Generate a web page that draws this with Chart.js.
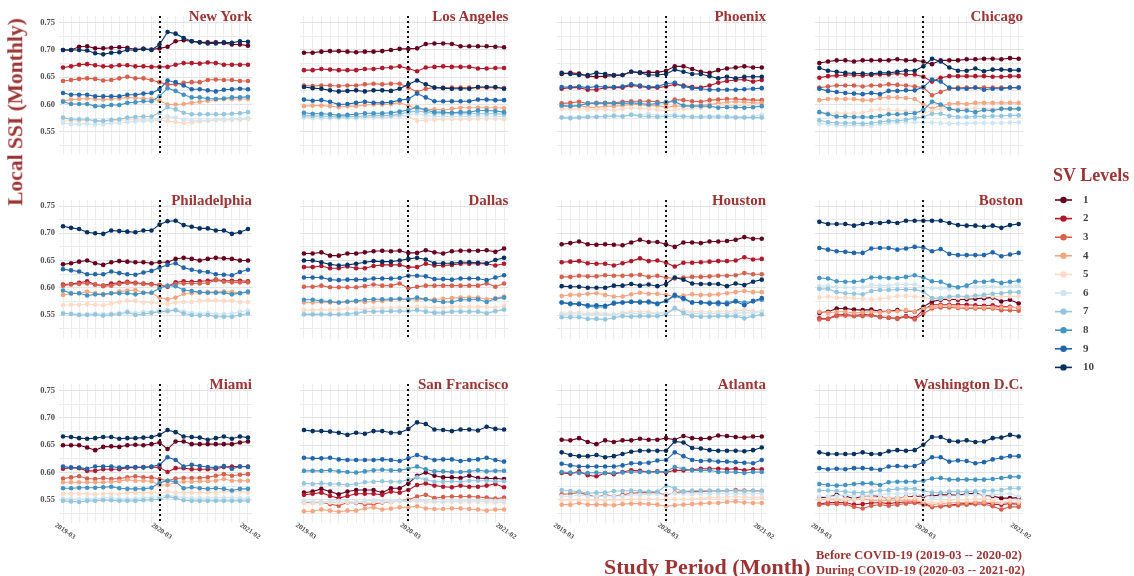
<!DOCTYPE html>
<html>
<head>
<meta charset="utf-8">
<script src="https://cdn.jsdelivr.net/npm/chart.js@4.4.1/dist/chart.umd.min.js"></script>
<style>
  html, body { margin: 0; padding: 0; }
  body { width: 1134px; height: 576px; background: #fff; position: relative; overflow: hidden;
         font-family: "Liberation Serif", "Times New Roman", serif; }
  canvas { position: absolute; }
  .txt { position: absolute; font-weight: bold; color: #9b3535; white-space: nowrap; line-height: 1; }
  .ptitle { font-size: 15px; transform: translateY(-50%); text-align: right; }
</style>
</head>
<body>
<script>
// ---- categories and tick labels ----
const months = ['2019-03','2019-04','2019-05','2019-06','2019-07','2019-08','2019-09','2019-10','2019-11','2019-12','2020-01','2020-02',
                '2020-03','2020-04','2020-05','2020-06','2020-07','2020-08','2020-09','2020-10','2020-11','2020-12','2021-01','2021-02'];
const xTickLabels = ['2019-03', '2020-03', '2021-02'];
const yTickLabels = ['0.55', '0.60', '0.65', '0.70', '0.75'];
const covidStart = '2020-03';
const levels = ['1','2','3','4','5','6','7','8','9','10'];
const cities = ['New York','Los Angeles','Phoenix','Chicago','Philadelphia','Dallas','Houston','Boston',
                'Miami','San Francisco','Atlanta','Washington D.C.'];

// ---- monthly local SSI per SV level (rows = level 1..10) ----
const newYork = [
  [0.700,0.700,0.706,0.707,0.703,0.703,0.704,0.705,0.704,0.701,0.702,0.701,0.703,0.706,0.716,0.718,0.716,0.714,0.714,0.714,0.713,0.710,0.710,0.708],
  [0.668,0.670,0.673,0.674,0.672,0.670,0.670,0.672,0.672,0.670,0.670,0.669,0.669,0.669,0.673,0.676,0.676,0.675,0.677,0.676,0.673,0.673,0.673,0.673],
  [0.643,0.645,0.647,0.648,0.647,0.644,0.645,0.648,0.651,0.648,0.648,0.645,0.641,0.637,0.637,0.640,0.641,0.641,0.645,0.646,0.645,0.645,0.643,0.643],
  [0.607,0.609,0.610,0.611,0.610,0.609,0.610,0.611,0.613,0.612,0.611,0.610,0.607,0.600,0.600,0.601,0.603,0.605,0.607,0.609,0.610,0.610,0.610,0.610],
  [0.570,0.570,0.570,0.571,0.570,0.569,0.570,0.571,0.572,0.572,0.572,0.572,0.571,0.570,0.568,0.566,0.567,0.569,0.570,0.571,0.571,0.572,0.572,0.573],
  [0.566,0.564,0.564,0.565,0.563,0.564,0.566,0.566,0.568,0.569,0.570,0.570,0.573,0.578,0.576,0.572,0.571,0.571,0.571,0.572,0.573,0.573,0.574,0.575],
  [0.576,0.573,0.573,0.573,0.570,0.570,0.572,0.573,0.576,0.577,0.578,0.578,0.585,0.595,0.591,0.585,0.582,0.582,0.582,0.582,0.582,0.583,0.584,0.586],
  [0.605,0.601,0.601,0.601,0.597,0.597,0.599,0.599,0.603,0.604,0.606,0.606,0.615,0.630,0.625,0.618,0.613,0.613,0.611,0.610,0.611,0.613,0.613,0.614],
  [0.621,0.618,0.618,0.618,0.615,0.615,0.615,0.615,0.618,0.618,0.620,0.621,0.628,0.644,0.641,0.635,0.628,0.628,0.626,0.624,0.627,0.628,0.629,0.628],
  [0.700,0.700,0.700,0.699,0.694,0.692,0.695,0.696,0.700,0.700,0.702,0.700,0.710,0.733,0.730,0.722,0.716,0.714,0.712,0.712,0.714,0.713,0.716,0.715]
];
const losAngeles = [
  [0.695,0.695,0.697,0.698,0.698,0.697,0.696,0.697,0.697,0.698,0.700,0.702,0.702,0.703,0.711,0.712,0.712,0.711,0.707,0.707,0.707,0.707,0.706,0.705],
  [0.663,0.663,0.665,0.664,0.663,0.663,0.663,0.665,0.665,0.667,0.668,0.670,0.666,0.661,0.668,0.669,0.670,0.669,0.669,0.669,0.666,0.666,0.667,0.667],
  [0.635,0.634,0.635,0.635,0.634,0.635,0.635,0.637,0.638,0.637,0.638,0.638,0.631,0.623,0.629,0.631,0.631,0.631,0.631,0.631,0.631,0.631,0.631,0.630],
  [0.597,0.598,0.598,0.597,0.595,0.597,0.597,0.599,0.600,0.600,0.601,0.603,0.598,0.592,0.591,0.591,0.590,0.592,0.594,0.594,0.594,0.594,0.594,0.593],
  [0.578,0.578,0.578,0.577,0.576,0.577,0.577,0.578,0.578,0.578,0.579,0.580,0.577,0.570,0.571,0.572,0.573,0.573,0.573,0.573,0.574,0.574,0.574,0.573],
  [0.576,0.575,0.575,0.575,0.575,0.575,0.575,0.576,0.576,0.576,0.577,0.578,0.581,0.583,0.580,0.578,0.578,0.578,0.578,0.578,0.579,0.579,0.578,0.578],
  [0.580,0.579,0.579,0.578,0.577,0.578,0.578,0.579,0.580,0.580,0.580,0.582,0.586,0.588,0.586,0.583,0.583,0.583,0.583,0.583,0.583,0.583,0.583,0.582],
  [0.585,0.583,0.583,0.582,0.580,0.581,0.582,0.584,0.584,0.584,0.585,0.587,0.590,0.595,0.590,0.586,0.586,0.585,0.586,0.586,0.589,0.589,0.588,0.586],
  [0.609,0.607,0.608,0.605,0.600,0.601,0.603,0.605,0.603,0.603,0.604,0.608,0.610,0.620,0.613,0.606,0.606,0.606,0.606,0.606,0.609,0.609,0.608,0.608],
  [0.632,0.630,0.629,0.626,0.624,0.625,0.626,0.624,0.626,0.626,0.625,0.629,0.637,0.644,0.637,0.631,0.630,0.629,0.629,0.629,0.632,0.632,0.632,0.629]
];
const phoenix = [
  [0.656,0.658,0.657,0.652,0.651,0.652,0.653,0.654,0.660,0.659,0.659,0.659,0.662,0.670,0.670,0.665,0.660,0.658,0.663,0.666,0.668,0.670,0.668,0.668],
  [0.629,0.631,0.631,0.627,0.627,0.631,0.631,0.631,0.635,0.633,0.631,0.631,0.633,0.637,0.635,0.632,0.631,0.635,0.640,0.643,0.645,0.646,0.642,0.645],
  [0.602,0.603,0.605,0.602,0.603,0.603,0.603,0.605,0.606,0.606,0.606,0.605,0.602,0.609,0.608,0.606,0.605,0.608,0.609,0.610,0.610,0.609,0.608,0.608],
  [0.597,0.597,0.598,0.595,0.594,0.597,0.597,0.598,0.600,0.600,0.598,0.598,0.595,0.597,0.597,0.598,0.599,0.600,0.602,0.604,0.605,0.604,0.603,0.603],
  [0.592,0.592,0.592,0.591,0.591,0.591,0.589,0.592,0.594,0.593,0.592,0.591,0.588,0.591,0.592,0.593,0.594,0.595,0.597,0.598,0.598,0.598,0.597,0.597],
  [0.577,0.577,0.577,0.578,0.578,0.579,0.581,0.579,0.582,0.581,0.583,0.580,0.581,0.582,0.579,0.578,0.578,0.579,0.579,0.579,0.578,0.578,0.579,0.581],
  [0.576,0.575,0.576,0.577,0.577,0.578,0.579,0.578,0.581,0.579,0.578,0.577,0.578,0.579,0.578,0.577,0.577,0.577,0.577,0.577,0.576,0.576,0.576,0.576],
  [0.598,0.597,0.598,0.602,0.602,0.602,0.602,0.602,0.603,0.602,0.600,0.602,0.605,0.605,0.598,0.597,0.597,0.597,0.594,0.595,0.595,0.594,0.595,0.597],
  [0.632,0.632,0.633,0.631,0.633,0.632,0.632,0.633,0.637,0.635,0.632,0.633,0.638,0.640,0.633,0.630,0.629,0.627,0.627,0.627,0.627,0.628,0.629,0.630],
  [0.658,0.656,0.654,0.654,0.658,0.656,0.654,0.654,0.660,0.658,0.654,0.654,0.656,0.664,0.660,0.656,0.656,0.652,0.648,0.651,0.648,0.651,0.651,0.651]
];
const chicago = [
  [0.676,0.679,0.681,0.681,0.679,0.681,0.681,0.681,0.681,0.683,0.681,0.681,0.679,0.674,0.681,0.681,0.681,0.683,0.683,0.684,0.684,0.683,0.685,0.684],
  [0.649,0.652,0.653,0.654,0.654,0.653,0.654,0.655,0.655,0.657,0.655,0.655,0.651,0.642,0.649,0.652,0.652,0.652,0.652,0.652,0.651,0.651,0.652,0.652],
  [0.631,0.633,0.635,0.635,0.635,0.633,0.635,0.635,0.637,0.636,0.635,0.633,0.631,0.617,0.623,0.629,0.631,0.631,0.631,0.631,0.631,0.631,0.631,0.631],
  [0.608,0.610,0.610,0.610,0.610,0.608,0.608,0.612,0.613,0.613,0.612,0.610,0.600,0.592,0.598,0.601,0.602,0.601,0.603,0.603,0.603,0.603,0.603,0.603],
  [0.586,0.585,0.584,0.584,0.584,0.585,0.589,0.591,0.590,0.589,0.588,0.587,0.584,0.589,0.592,0.593,0.592,0.592,0.593,0.592,0.592,0.592,0.592,0.592],
  [0.565,0.564,0.562,0.561,0.562,0.562,0.561,0.564,0.566,0.566,0.567,0.568,0.567,0.567,0.566,0.565,0.565,0.565,0.566,0.566,0.566,0.566,0.567,0.567],
  [0.571,0.568,0.566,0.566,0.566,0.565,0.566,0.568,0.570,0.570,0.572,0.575,0.577,0.583,0.583,0.579,0.577,0.577,0.578,0.578,0.579,0.579,0.580,0.580],
  [0.586,0.582,0.578,0.578,0.577,0.577,0.577,0.579,0.582,0.582,0.583,0.584,0.590,0.605,0.600,0.592,0.589,0.589,0.586,0.590,0.589,0.592,0.592,0.592],
  [0.629,0.625,0.623,0.621,0.620,0.619,0.621,0.619,0.625,0.625,0.626,0.626,0.632,0.646,0.642,0.631,0.629,0.629,0.631,0.627,0.629,0.629,0.631,0.631],
  [0.667,0.662,0.660,0.658,0.657,0.657,0.656,0.658,0.658,0.660,0.662,0.662,0.670,0.684,0.679,0.668,0.662,0.662,0.666,0.661,0.664,0.664,0.663,0.663]
];
const philadelphia = [
  [0.643,0.645,0.648,0.650,0.645,0.642,0.647,0.649,0.648,0.647,0.647,0.645,0.647,0.647,0.653,0.655,0.653,0.650,0.653,0.655,0.654,0.653,0.650,0.650],
  [0.606,0.607,0.609,0.612,0.606,0.604,0.608,0.609,0.611,0.609,0.608,0.607,0.605,0.602,0.610,0.612,0.611,0.612,0.613,0.615,0.613,0.613,0.613,0.612],
  [0.604,0.606,0.607,0.608,0.606,0.603,0.604,0.607,0.609,0.608,0.607,0.606,0.605,0.603,0.607,0.608,0.608,0.608,0.609,0.614,0.611,0.610,0.610,0.610],
  [0.587,0.589,0.590,0.593,0.590,0.587,0.590,0.593,0.595,0.596,0.591,0.591,0.582,0.579,0.582,0.589,0.590,0.591,0.592,0.592,0.593,0.592,0.591,0.591],
  [0.568,0.569,0.569,0.570,0.569,0.568,0.571,0.574,0.576,0.576,0.573,0.573,0.571,0.570,0.573,0.574,0.574,0.576,0.577,0.577,0.576,0.576,0.574,0.574],
  [0.554,0.553,0.552,0.552,0.553,0.552,0.553,0.554,0.557,0.554,0.556,0.556,0.558,0.559,0.560,0.557,0.554,0.553,0.554,0.552,0.552,0.553,0.556,0.558],
  [0.553,0.552,0.550,0.550,0.551,0.549,0.551,0.552,0.555,0.550,0.552,0.554,0.556,0.557,0.559,0.553,0.550,0.549,0.550,0.547,0.547,0.547,0.550,0.553],
  [0.595,0.590,0.590,0.586,0.588,0.588,0.590,0.590,0.590,0.588,0.591,0.591,0.599,0.604,0.603,0.596,0.594,0.592,0.591,0.591,0.591,0.588,0.590,0.593],
  [0.634,0.632,0.630,0.625,0.625,0.625,0.630,0.627,0.625,0.624,0.628,0.631,0.637,0.642,0.645,0.637,0.633,0.630,0.629,0.625,0.624,0.623,0.629,0.633],
  [0.713,0.710,0.708,0.702,0.700,0.699,0.705,0.704,0.703,0.702,0.705,0.705,0.716,0.722,0.723,0.715,0.712,0.709,0.709,0.705,0.705,0.699,0.702,0.708]
];
const dallas = [
  [0.663,0.663,0.665,0.659,0.659,0.663,0.663,0.665,0.667,0.668,0.667,0.668,0.664,0.664,0.669,0.665,0.663,0.667,0.668,0.668,0.668,0.669,0.666,0.672],
  [0.638,0.638,0.640,0.636,0.636,0.639,0.636,0.636,0.640,0.642,0.642,0.642,0.638,0.638,0.644,0.641,0.641,0.642,0.644,0.644,0.644,0.644,0.641,0.644],
  [0.602,0.602,0.604,0.601,0.601,0.601,0.601,0.603,0.606,0.604,0.604,0.608,0.599,0.602,0.604,0.604,0.604,0.604,0.604,0.604,0.604,0.608,0.602,0.608],
  [0.573,0.573,0.574,0.573,0.573,0.574,0.575,0.574,0.575,0.576,0.578,0.579,0.578,0.578,0.579,0.579,0.580,0.581,0.582,0.582,0.582,0.579,0.581,0.584],
  [0.559,0.559,0.560,0.559,0.560,0.562,0.561,0.560,0.563,0.563,0.563,0.564,0.563,0.565,0.564,0.564,0.564,0.565,0.565,0.565,0.565,0.565,0.564,0.567],
  [0.553,0.553,0.553,0.552,0.552,0.553,0.555,0.557,0.558,0.558,0.558,0.558,0.558,0.559,0.558,0.556,0.556,0.557,0.558,0.557,0.557,0.555,0.558,0.561],
  [0.551,0.551,0.551,0.551,0.551,0.552,0.553,0.556,0.556,0.556,0.557,0.557,0.557,0.559,0.556,0.554,0.554,0.556,0.556,0.556,0.556,0.553,0.557,0.560],
  [0.578,0.578,0.576,0.575,0.573,0.575,0.576,0.578,0.579,0.579,0.579,0.580,0.579,0.582,0.579,0.576,0.574,0.574,0.578,0.578,0.579,0.574,0.580,0.582],
  [0.619,0.619,0.619,0.615,0.614,0.615,0.615,0.615,0.617,0.617,0.617,0.618,0.622,0.622,0.621,0.616,0.616,0.615,0.617,0.617,0.617,0.614,0.619,0.623],
  [0.650,0.650,0.647,0.643,0.641,0.642,0.644,0.647,0.649,0.648,0.648,0.650,0.653,0.655,0.652,0.645,0.645,0.645,0.647,0.647,0.646,0.645,0.651,0.655]
];
const houston = [
  [0.680,0.682,0.685,0.680,0.679,0.680,0.679,0.678,0.683,0.688,0.684,0.684,0.680,0.675,0.683,0.683,0.682,0.685,0.685,0.686,0.688,0.693,0.690,0.690],
  [0.647,0.648,0.649,0.645,0.644,0.644,0.641,0.645,0.649,0.654,0.649,0.650,0.646,0.639,0.646,0.646,0.647,0.648,0.649,0.649,0.650,0.656,0.652,0.653],
  [0.620,0.620,0.622,0.621,0.621,0.623,0.622,0.622,0.623,0.624,0.620,0.622,0.619,0.617,0.619,0.620,0.620,0.621,0.622,0.622,0.623,0.627,0.625,0.625],
  [0.585,0.587,0.587,0.589,0.590,0.587,0.584,0.584,0.588,0.591,0.589,0.589,0.587,0.584,0.586,0.588,0.587,0.587,0.588,0.590,0.592,0.594,0.592,0.592],
  [0.553,0.554,0.554,0.553,0.554,0.553,0.551,0.554,0.556,0.556,0.556,0.553,0.556,0.562,0.559,0.556,0.556,0.556,0.556,0.556,0.558,0.559,0.557,0.557],
  [0.551,0.552,0.552,0.551,0.551,0.551,0.551,0.553,0.553,0.553,0.553,0.553,0.554,0.560,0.557,0.553,0.553,0.553,0.553,0.553,0.554,0.554,0.554,0.556],
  [0.546,0.546,0.546,0.543,0.543,0.542,0.545,0.548,0.547,0.548,0.548,0.548,0.551,0.563,0.554,0.548,0.547,0.547,0.548,0.548,0.548,0.544,0.548,0.551],
  [0.573,0.570,0.571,0.566,0.565,0.565,0.573,0.573,0.575,0.575,0.573,0.570,0.576,0.585,0.579,0.573,0.573,0.573,0.570,0.573,0.576,0.573,0.575,0.578],
  [0.573,0.571,0.570,0.568,0.568,0.567,0.571,0.573,0.574,0.573,0.575,0.571,0.576,0.587,0.581,0.573,0.573,0.571,0.573,0.570,0.575,0.568,0.576,0.581],
  [0.603,0.602,0.602,0.600,0.600,0.600,0.604,0.604,0.607,0.604,0.606,0.603,0.607,0.619,0.615,0.608,0.607,0.607,0.607,0.603,0.608,0.605,0.611,0.615]
];
const boston = [
  [0.554,0.556,0.562,0.562,0.560,0.559,0.560,0.557,0.557,0.559,0.558,0.556,0.565,0.575,0.578,0.579,0.578,0.579,0.580,0.581,0.582,0.575,0.578,0.571],
  [0.544,0.543,0.550,0.551,0.549,0.551,0.550,0.547,0.545,0.544,0.548,0.544,0.560,0.569,0.569,0.569,0.569,0.569,0.568,0.567,0.568,0.565,0.565,0.563],
  [0.542,0.543,0.548,0.549,0.548,0.548,0.549,0.546,0.545,0.543,0.547,0.542,0.553,0.562,0.564,0.564,0.563,0.562,0.562,0.562,0.562,0.559,0.559,0.558],
  [0.556,0.554,0.556,0.556,0.554,0.555,0.556,0.555,0.557,0.557,0.559,0.556,0.562,0.565,0.567,0.567,0.565,0.564,0.564,0.564,0.564,0.564,0.564,0.564],
  [0.582,0.584,0.582,0.582,0.581,0.580,0.579,0.580,0.582,0.585,0.585,0.584,0.582,0.580,0.580,0.581,0.581,0.582,0.584,0.584,0.584,0.584,0.584,0.584],
  [0.603,0.604,0.601,0.601,0.600,0.601,0.605,0.604,0.604,0.606,0.606,0.606,0.601,0.599,0.599,0.598,0.600,0.601,0.602,0.602,0.602,0.602,0.603,0.604],
  [0.598,0.598,0.592,0.590,0.589,0.588,0.594,0.596,0.596,0.597,0.597,0.597,0.593,0.581,0.581,0.584,0.585,0.584,0.586,0.587,0.589,0.590,0.592,0.592],
  [0.618,0.617,0.612,0.611,0.611,0.613,0.619,0.619,0.618,0.618,0.620,0.623,0.619,0.612,0.611,0.604,0.601,0.604,0.611,0.611,0.613,0.609,0.611,0.613],
  [0.673,0.670,0.667,0.666,0.664,0.664,0.672,0.673,0.673,0.670,0.672,0.675,0.674,0.667,0.671,0.662,0.660,0.660,0.660,0.660,0.665,0.658,0.661,0.664],
  [0.721,0.717,0.717,0.717,0.714,0.717,0.719,0.719,0.721,0.719,0.723,0.723,0.723,0.723,0.723,0.719,0.715,0.714,0.714,0.712,0.714,0.710,0.715,0.717]
];
const miami = [
  [0.650,0.650,0.650,0.646,0.641,0.647,0.648,0.647,0.650,0.651,0.650,0.652,0.655,0.643,0.657,0.657,0.652,0.652,0.652,0.652,0.652,0.652,0.655,0.657],
  [0.607,0.609,0.608,0.603,0.603,0.606,0.606,0.606,0.609,0.609,0.610,0.610,0.609,0.601,0.608,0.608,0.606,0.606,0.606,0.607,0.610,0.611,0.611,0.611],
  [0.589,0.591,0.593,0.589,0.588,0.590,0.588,0.589,0.591,0.593,0.591,0.591,0.588,0.585,0.589,0.590,0.590,0.590,0.591,0.594,0.597,0.594,0.596,0.597],
  [0.582,0.582,0.582,0.582,0.582,0.582,0.583,0.584,0.587,0.585,0.585,0.584,0.577,0.577,0.582,0.583,0.583,0.584,0.584,0.585,0.588,0.585,0.585,0.585],
  [0.561,0.561,0.561,0.561,0.560,0.561,0.561,0.561,0.563,0.563,0.563,0.563,0.562,0.565,0.563,0.563,0.563,0.563,0.563,0.563,0.565,0.565,0.565,0.563],
  [0.552,0.552,0.551,0.552,0.552,0.553,0.554,0.552,0.552,0.552,0.554,0.554,0.556,0.558,0.556,0.554,0.553,0.553,0.553,0.554,0.554,0.554,0.553,0.553],
  [0.548,0.547,0.546,0.548,0.548,0.549,0.549,0.548,0.548,0.548,0.549,0.550,0.551,0.556,0.553,0.549,0.548,0.548,0.548,0.548,0.548,0.548,0.548,0.548],
  [0.571,0.571,0.572,0.572,0.572,0.573,0.574,0.571,0.570,0.570,0.570,0.572,0.581,0.585,0.583,0.571,0.573,0.571,0.570,0.571,0.570,0.567,0.570,0.570],
  [0.611,0.609,0.609,0.607,0.611,0.611,0.611,0.609,0.610,0.610,0.609,0.611,0.614,0.628,0.623,0.611,0.614,0.612,0.610,0.609,0.612,0.607,0.611,0.610],
  [0.666,0.665,0.663,0.662,0.663,0.665,0.665,0.662,0.663,0.663,0.664,0.665,0.669,0.678,0.674,0.666,0.665,0.664,0.660,0.663,0.666,0.662,0.666,0.664]
];
const sanFrancisco = [
  [0.563,0.565,0.570,0.565,0.560,0.565,0.568,0.568,0.568,0.563,0.571,0.571,0.580,0.594,0.600,0.594,0.591,0.591,0.590,0.594,0.590,0.589,0.589,0.588],
  [0.559,0.561,0.563,0.557,0.553,0.557,0.561,0.561,0.561,0.559,0.565,0.563,0.568,0.577,0.580,0.576,0.574,0.573,0.576,0.574,0.574,0.576,0.579,0.573],
  [0.545,0.545,0.545,0.542,0.539,0.545,0.544,0.542,0.542,0.545,0.546,0.548,0.550,0.556,0.559,0.553,0.555,0.556,0.556,0.556,0.555,0.554,0.552,0.554],
  [0.529,0.529,0.532,0.530,0.528,0.530,0.530,0.534,0.536,0.532,0.534,0.536,0.536,0.538,0.534,0.533,0.533,0.534,0.534,0.533,0.532,0.530,0.532,0.532],
  [0.544,0.544,0.544,0.545,0.545,0.545,0.546,0.545,0.546,0.546,0.546,0.547,0.547,0.547,0.546,0.546,0.546,0.546,0.546,0.546,0.546,0.546,0.545,0.545],
  [0.548,0.546,0.546,0.548,0.548,0.548,0.545,0.548,0.549,0.548,0.548,0.548,0.548,0.549,0.548,0.547,0.547,0.548,0.548,0.548,0.548,0.548,0.548,0.548],
  [0.580,0.579,0.580,0.579,0.579,0.577,0.579,0.582,0.583,0.584,0.583,0.583,0.587,0.591,0.587,0.583,0.583,0.584,0.583,0.585,0.585,0.585,0.584,0.584],
  [0.603,0.603,0.603,0.604,0.602,0.601,0.600,0.602,0.604,0.605,0.604,0.604,0.607,0.611,0.606,0.602,0.602,0.601,0.601,0.602,0.604,0.602,0.603,0.603],
  [0.627,0.626,0.626,0.627,0.624,0.623,0.623,0.623,0.623,0.624,0.623,0.621,0.626,0.632,0.627,0.623,0.624,0.624,0.621,0.623,0.624,0.627,0.623,0.620],
  [0.678,0.676,0.676,0.675,0.673,0.669,0.673,0.671,0.676,0.676,0.673,0.673,0.680,0.692,0.689,0.679,0.678,0.676,0.679,0.679,0.677,0.684,0.680,0.679]
];
const atlanta = [
  [0.660,0.659,0.663,0.656,0.652,0.659,0.656,0.659,0.659,0.662,0.660,0.660,0.663,0.660,0.667,0.663,0.662,0.663,0.668,0.667,0.665,0.664,0.666,0.666],
  [0.599,0.598,0.602,0.595,0.593,0.599,0.597,0.601,0.604,0.603,0.601,0.602,0.600,0.604,0.604,0.605,0.607,0.607,0.607,0.606,0.607,0.604,0.606,0.606],
  [0.560,0.561,0.563,0.559,0.555,0.559,0.557,0.559,0.562,0.563,0.563,0.563,0.559,0.563,0.565,0.565,0.565,0.566,0.566,0.566,0.568,0.567,0.566,0.566],
  [0.541,0.541,0.544,0.541,0.541,0.541,0.540,0.542,0.543,0.543,0.542,0.541,0.538,0.540,0.541,0.542,0.543,0.544,0.544,0.546,0.547,0.545,0.544,0.544],
  [0.549,0.549,0.550,0.549,0.549,0.549,0.549,0.550,0.551,0.551,0.551,0.551,0.550,0.551,0.551,0.551,0.552,0.554,0.554,0.555,0.556,0.555,0.554,0.554],
  [0.557,0.556,0.559,0.557,0.556,0.557,0.557,0.557,0.559,0.559,0.560,0.560,0.561,0.562,0.561,0.560,0.561,0.561,0.561,0.561,0.561,0.561,0.561,0.561],
  [0.568,0.566,0.565,0.562,0.563,0.563,0.566,0.566,0.567,0.566,0.565,0.565,0.576,0.571,0.565,0.567,0.567,0.567,0.567,0.567,0.566,0.566,0.567,0.567],
  [0.601,0.600,0.599,0.599,0.600,0.599,0.599,0.600,0.601,0.601,0.601,0.601,0.602,0.610,0.607,0.604,0.604,0.604,0.601,0.601,0.601,0.599,0.601,0.601],
  [0.616,0.613,0.611,0.611,0.611,0.611,0.611,0.613,0.617,0.617,0.618,0.622,0.623,0.637,0.630,0.623,0.621,0.622,0.620,0.620,0.619,0.618,0.617,0.623],
  [0.637,0.632,0.630,0.630,0.632,0.628,0.630,0.634,0.638,0.640,0.640,0.640,0.640,0.657,0.655,0.645,0.644,0.641,0.640,0.640,0.640,0.639,0.641,0.646]
];
const washingtonDC = [
  [0.554,0.555,0.559,0.557,0.552,0.557,0.558,0.556,0.552,0.553,0.555,0.556,0.557,0.557,0.559,0.559,0.558,0.561,0.562,0.558,0.557,0.553,0.553,0.554],
  [0.542,0.545,0.545,0.545,0.541,0.542,0.544,0.545,0.543,0.545,0.546,0.546,0.544,0.537,0.538,0.540,0.542,0.543,0.544,0.545,0.542,0.541,0.543,0.542],
  [0.541,0.542,0.542,0.542,0.537,0.534,0.539,0.541,0.539,0.541,0.543,0.544,0.541,0.537,0.538,0.539,0.540,0.541,0.542,0.542,0.538,0.532,0.537,0.537],
  [0.550,0.550,0.550,0.549,0.550,0.551,0.549,0.548,0.549,0.549,0.549,0.549,0.545,0.541,0.543,0.544,0.545,0.545,0.546,0.546,0.545,0.544,0.545,0.544],
  [0.551,0.552,0.552,0.551,0.551,0.552,0.554,0.554,0.553,0.553,0.554,0.554,0.549,0.545,0.546,0.549,0.550,0.550,0.551,0.553,0.549,0.545,0.549,0.547],
  [0.556,0.556,0.557,0.559,0.557,0.557,0.559,0.559,0.561,0.561,0.561,0.561,0.559,0.554,0.556,0.557,0.557,0.559,0.559,0.559,0.559,0.560,0.561,0.556],
  [0.567,0.567,0.566,0.565,0.563,0.563,0.565,0.567,0.568,0.570,0.570,0.570,0.567,0.563,0.563,0.565,0.565,0.565,0.566,0.566,0.567,0.568,0.571,0.571],
  [0.579,0.577,0.576,0.577,0.579,0.580,0.580,0.577,0.582,0.583,0.583,0.583,0.585,0.589,0.590,0.587,0.587,0.587,0.587,0.587,0.588,0.590,0.592,0.592],
  [0.608,0.606,0.607,0.606,0.608,0.608,0.607,0.605,0.611,0.612,0.611,0.612,0.619,0.628,0.628,0.620,0.622,0.621,0.617,0.619,0.624,0.627,0.630,0.630],
  [0.637,0.634,0.634,0.634,0.634,0.637,0.634,0.634,0.639,0.641,0.640,0.641,0.651,0.665,0.665,0.658,0.657,0.659,0.656,0.657,0.663,0.664,0.669,0.666]
];
const cityValues = [newYork, losAngeles, phoenix, chicago, philadelphia, dallas, houston, boston,
                    miami, sanFrancisco, atlanta, washingtonDC];

// ---- styling ----
const palette = ['#67001f','#b2182b','#d6604d','#f4a582','#fddbc7','#d1e5f0','#92c5de','#4393c3','#2166ac','#053061'];
const SERIF = '"Liberation Serif", "Times New Roman", serif';

// facet grid geometry (plot-area edges in page pixels)
const colLeft  = [59.0, 299.6, 557.3, 815.0];
const colRight = [252.0, 508.4, 766.1, 1023.0];
const rowTop   = [16.2, 199.5, 384.2];
const plotH    = 139;
const yMin = 0.507, yMax = 0.762;

// dotted marker at the start of the COVID-19 period
const covidLine = {
  id: 'covidLine',
  afterDatasetsDraw(chart) {
    const { ctx, chartArea: a, scales: { x } } = chart;
    const px = Math.round(x.getPixelForValue(months.indexOf(covidStart)));
    ctx.save();
    ctx.strokeStyle = '#111';
    ctx.lineWidth = 2;
    ctx.setLineDash([2, 3]);
    ctx.beginPath();
    ctx.moveTo(px, Math.round(a.top));
    ctx.lineTo(px, a.bottom);
    ctx.stroke();
    ctx.restore();
  }
};

// slanted month labels under the bottom row of panels
const monthLabels = {
  id: 'monthLabels',
  afterDraw(chart) {
    const { ctx, chartArea: a, scales: { x } } = chart;
    ctx.save();
    ctx.font = 'bold 7px ' + SERIF;
    ctx.fillStyle = '#4d4d4d';
    ctx.textAlign = 'center';
    ctx.textBaseline = 'middle';
    xTickLabels.forEach(lbl => {
      const px = x.getPixelForValue(months.indexOf(lbl));
      ctx.save();
      ctx.translate(px + 2, a.bottom + 8);
      ctx.rotate(35 * Math.PI / 180);
      ctx.fillText(lbl, 0, 0);
      ctx.restore();
    });
    ctx.restore();
  }
};

function addText(text, css, cls) {
  const d = document.createElement('div');
  d.className = 'txt' + (cls ? ' ' + cls : '');
  d.textContent = text;
  d.style.cssText += css;
  document.body.appendChild(d);
  return d;
}

function makePanel(idx) {
  const r = Math.floor(idx / 4), c = idx % 4;
  const L = colLeft[c], R = colRight[c], T = rowTop[r];
  const H = plotH;
  const yAxisW = 40;
  const cLeft = Math.floor(L) - 46, cTop = Math.floor(T) - 20;
  const cw = Math.ceil(R - cLeft + 10), ch = Math.ceil(T + H - cTop + 32);
  const canvas = document.createElement('canvas');
  canvas.width = cw; canvas.height = ch;
  canvas.style.left = cLeft + 'px'; canvas.style.top = cTop + 'px';
  canvas.style.width = cw + 'px'; canvas.style.height = ch + 'px';
  document.body.appendChild(canvas);

  const values = cityValues[idx];
  new Chart(canvas, {
    type: 'line',
    data: {
      labels: months,
      datasets: levels.map((lv, i) => ({
        label: lv,
        data: values[i],
        borderColor: palette[i],
        backgroundColor: palette[i],
        pointBackgroundColor: palette[i],
        pointBorderColor: palette[i],
        pointBorderWidth: 0,
        pointRadius: 2.3,
        borderWidth: 1.1,
        tension: 0,
        order: levels.length - 1 - i
      }))
    },
    options: {
      responsive: false,
      animation: false,
      devicePixelRatio: 1,
      events: [],
      layout: { padding: { left: L - cLeft - yAxisW, top: T - cTop, right: cw - (R - cLeft), bottom: ch - (T + H - cTop) } },
      plugins: { legend: { display: false }, tooltip: { enabled: false }, title: { display: false } },
      scales: {
        x: {
          type: 'category',
          offset: true,
          grid: { offset: false, color: '#ededed', lineWidth: 1, drawTicks: false },
          border: { display: false },
          ticks: { display: false },
          afterFit(s) { s.height = 0; }
        },
        y: {
          min: yMin, max: yMax,
          grid: {
            color: ctx => {
              const v = ctx.tick ? ctx.tick.value : 0;
              return yTickLabels.includes(Number(v).toFixed(2)) && Math.abs(v * 20 - Math.round(v * 20)) < 1e-6 ? '#e3e3e3' : '#ececec';
            },
            lineWidth: 1, drawTicks: false
          },
          border: { display: false },
          ticks: {
            display: c === 0,
            stepSize: 0.025,
            includeBounds: false,
            padding: 4,
            color: '#4d4d4d',
            font: { family: SERIF, size: 8.5, weight: 'bold' },
            callback(v) {
              const s = Number(v).toFixed(2);
              return (yTickLabels.includes(s) && Math.abs(v - parseFloat(s)) < 1e-6) ? s : '';
            }
          },
          afterFit(s) { s.width = yAxisW; }
        }
      }
    },
    plugins: r === 2 ? [covidLine, monthLabels] : [covidLine]
  });

  addText(cities[idx], `right:${1134 - R}px;top:${T}px;`, 'ptitle');
}

cities.forEach((_, i) => makePanel(i));

// ---- shared legend (keys drawn as tiny line charts) ----
(function makeLegend() {
  const cLeft = 1045, cTop = 180, cw = 80, ch = 205;
  const keyLeft = 1055, keyRight = 1072, firstY = 200, lastY = 372.3;
  const canvas = document.createElement('canvas');
  canvas.width = cw; canvas.height = ch;
  canvas.style.left = cLeft + 'px'; canvas.style.top = cTop + 'px';
  canvas.style.width = cw + 'px'; canvas.style.height = ch + 'px';
  document.body.appendChild(canvas);
  const yAxisW = 40;
  new Chart(canvas, {
    type: 'line',
    data: {
      datasets: levels.map((lv, i) => ({
        label: lv,
        data: [{ x: 0, y: i + 1 }, { x: 1, y: i + 1 }, { x: 2, y: i + 1 }],
        borderColor: palette[i],
        backgroundColor: palette[i],
        pointBackgroundColor: palette[i],
        pointBorderWidth: 0,
        pointRadius: [0, 3.2, 0],
        borderWidth: 1.6,
        clip: false
      }))
    },
    options: {
      responsive: false, animation: false, devicePixelRatio: 1, events: [],
      layout: { padding: { left: keyLeft - cLeft, top: firstY - cTop, right: cw - (keyRight - cLeft) - yAxisW, bottom: ch - (lastY - cTop) } },
      plugins: { legend: { display: false }, tooltip: { enabled: false } },
      scales: {
        x: { type: 'linear', min: 0, max: 2, display: false },
        y: {
          type: 'linear', position: 'right', reverse: true, min: 1, max: 10,
          grid: { display: false, drawTicks: false }, border: { display: false },
          ticks: { stepSize: 1, padding: 11, color: '#444', font: { family: SERIF, size: 11, weight: 'bold' } },
          afterFit(s) { s.width = yAxisW; }
        }
      }
    }
  });
})();

// ---- axis titles and notes ----
addText('SV Levels', 'left:1053px;top:174.5px;font-size:18px;transform:translateY(-50%);');
addText('Local SSI (Monthly)', 'left:16px;top:111.5px;font-size:21.5px;transform:translate(-50%,-50%) rotate(-90deg);');
addText('Study Period (Month)', 'left:604px;top:567px;font-size:22px;transform:translateY(-50%);');
addText('Before COVID-19 (2019-03 -- 2020-02)', 'left:816px;top:555px;font-size:12.5px;transform:translateY(-50%);');
addText('During COVID-19 (2020-03 -- 2021-02)', 'left:816px;top:570px;font-size:12.5px;transform:translateY(-50%);');
</script>
</body>
</html>
